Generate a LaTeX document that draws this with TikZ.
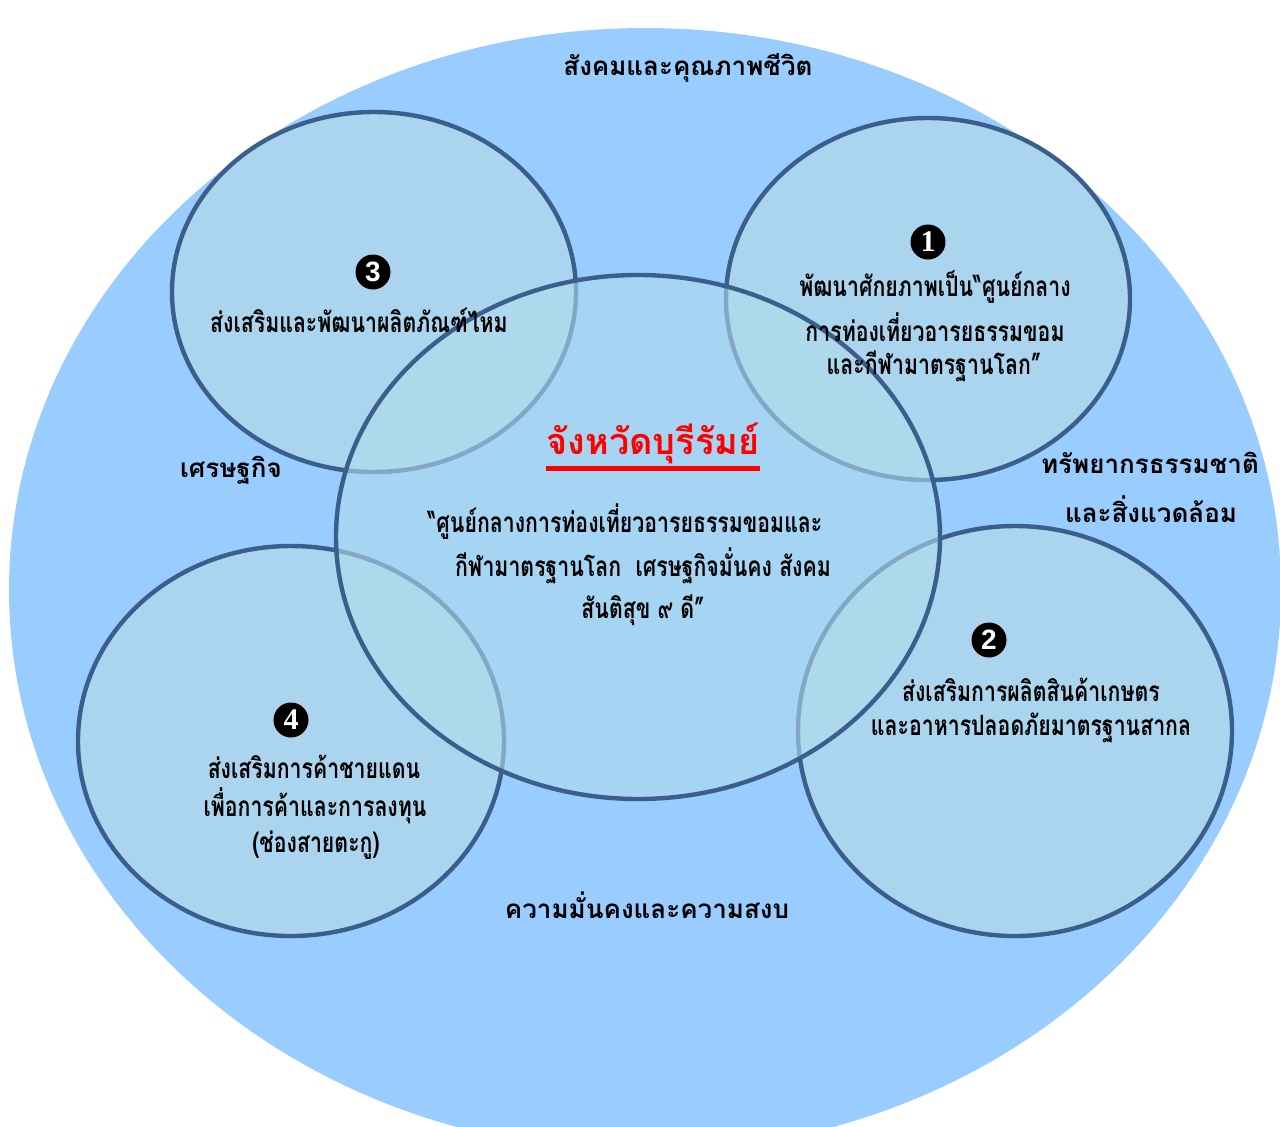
\documentclass[tikz,border=0pt]{standalone}
\usepackage{fontspec}
\newfontfamily\thai[Script=Thai]{Loma}
\newfontfamily\thaicond[Script=Thai, FakeStretch=0.76]{Loma}
\newfontfamily\numserif{Liberation Serif}
\newfontfamily\numsans{Liberation Sans}
\definecolor{bgblue}{HTML}{99CCFF}
\definecolor{smallfill}{HTML}{ABD5EE}
\definecolor{centfill}{HTML}{B0DAEC}
\definecolor{rimblue}{HTML}{3B5E8C}
\tikzset{
  rim/.style={draw=rimblue, line width=2.2pt},
  outlbl/.style={font=\thai\bfseries\fontsize{13}{19.5}\selectfont, text=black, inner sep=0pt, anchor=center},
  lbl/.style={font=\thaicond\bfseries\fontsize{14}{19.5}\selectfont, text=black, inner sep=0pt, anchor=center},
  numc/.style={circle, fill=black, text=white, inner sep=0pt, minimum size=17.5pt},
}
\begin{document}
\begin{tikzpicture}[x=0.5pt,y=-0.5pt]
\useasboundingbox (0,0) rectangle (1280,1126);
\clip (0,0) rectangle (1280,1126);
% big background ellipse
\fill[bgblue] (645,590) ellipse [x radius=636, y radius=562];
% small ellipses
\filldraw[rim, fill=smallfill] (374,292) ellipse [x radius=202, y radius=180];
\filldraw[rim, fill=smallfill] (928,299) ellipse [x radius=202, y radius=181];
\filldraw[rim, fill=smallfill] (291,741) ellipse [x radius=213, y radius=195];
\filldraw[rim, fill=smallfill] (1015,731) ellipse [x radius=217, y radius=205];
% central ellipse (semi-transparent fill)
\filldraw[rim, fill=centfill, fill opacity=0.6] (638,537) ellipse [x radius=302, y radius=262];
% outer labels
\node[outlbl] (social) at (688,68) {สังคมและคุณภาพชีวิต};
\node[outlbl] (econ) at (231,470) {เศรษฐกิจ};
\node[outlbl] (env1) at (1150,463) {ทรัพยากรธรรมชาติ};
\node[outlbl] (env2) at (1151,509) {และสิ่งแวดล้อม};
\node[outlbl] (secur) at (647,905) {ความมั่นคงและความสงบ};
% numbered markers
\node[numc, font=\numserif\bfseries\fontsize{15}{15}\selectfont] (n1) at (928,242) {1};
\node[numc, font=\numsans\bfseries\fontsize{14}{14}\selectfont] (n2) at (989,640) {2};
\node[numc, font=\numsans\bfseries\fontsize{14}{14}\selectfont] (n3) at (373,272) {3};
\node[numc, font=\numserif\bfseries\fontsize{15}{15}\selectfont] (n4) at (291,720) {4};
% ellipse 1 text
\node[lbl] (t1a) at (935,287) {พัฒนาศักยภาพเป็น“ศูนย์กลาง};
\node[lbl] (t1b) at (935,327) {การท่องเที่ยวอารยธรรมขอม};
\node[lbl] (t1c) at (934,366) {และกีฬามาตรฐานโลก”};
% ellipse 3 text
\node[lbl] (t3a) at (359,320) {ส่งเสริมและพัฒนาผลิตภัณฑ์ไหม};
% ellipse 2 text
\node[lbl] (t2a) at (1031,690) {ส่งเสริมการผลิตสินค้าเกษตร};
\node[lbl] (t2b) at (1031,728) {และอาหารปลอดภัยมาตรฐานสากล};
% ellipse 4 text
\node[lbl] (t4a) at (314,767) {ส่งเสริมการค้าชายแดน};
\node[lbl] (t4b) at (315,806) {เพื่อการค้าและการลงทุน};
\node[lbl] (t4c) at (316,845) {(ช่องสายตะกู)};
% centre
\node[outlbl, text=red, font=\thai\bfseries\fontsize{18}{22}\selectfont] (title) at (653,443) {จังหวัดบุรีรัมย์};
\draw[red, line width=2.5pt] ([yshift=-7pt]title.base west) -- ([yshift=-7pt]title.base east);
\node[lbl] (c1) at (625,522) {“ศูนย์กลางการท่องเที่ยวอารยธรรมขอมและ};
\node[lbl] (c2) at (643,566) {กีฬามาตรฐานโลก\ \ เศรษฐกิจมั่นคง สังคม};
\node[lbl] (c3) at (643,610) {สันติสุข ๙ ดี”};
\end{tikzpicture}
\end{document}
